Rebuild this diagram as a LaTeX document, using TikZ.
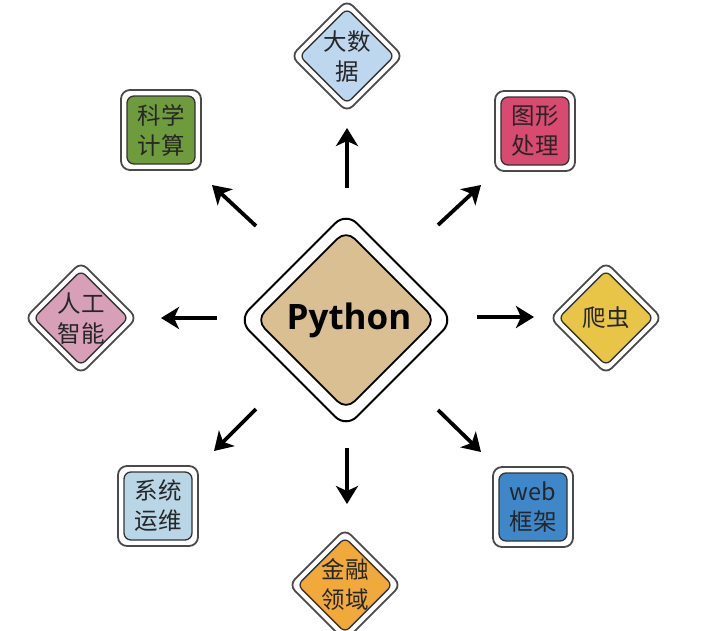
\documentclass[tikz,border=0pt]{standalone}
\usepackage{fontspec}
\newfontfamily\cjk{Noto Sans CJK SC}
\newfontfamily\pyfont{Open Sans}
\usetikzlibrary{arrows.meta}
\definecolor{bordergray}{HTML}{4A4A4A}
\definecolor{innerline}{HTML}{333333}
\definecolor{cBig}{HTML}{BDD7EE}
\definecolor{cSci}{HTML}{6E9B3B}
\definecolor{cImg}{HTML}{D94A70}
\definecolor{cSpider}{HTML}{E8C547}
\definecolor{cAI}{HTML}{D89FB9}
\definecolor{cWeb}{HTML}{3E87C9}
\definecolor{cOps}{HTML}{B9D6E6}
\definecolor{cFin}{HTML}{F2A93B}
\definecolor{cPy}{HTML}{D9BF92}
\definecolor{txtdark}{HTML}{262626}
\tikzset{
  x=1pt, y=-1pt,
  diaouter/.style={draw=bordergray, line width=1.8pt, fill=white, rounded corners=8pt,
    minimum size=79pt, inner sep=0pt, rotate=45},
  diainner/.style={draw=innerline, line width=1.3pt, rounded corners=6pt,
    minimum size=67pt, inner sep=0pt, rotate=45},
  sqouter/.style={draw=bordergray, line width=1.8pt, fill=white, rounded corners=9pt,
    minimum size=80pt, inner sep=0pt},
  sqinner/.style={draw=innerline, line width=1.3pt, rounded corners=7pt,
    minimum size=68pt, inner sep=0pt},
  pyouter/.style={draw=black, line width=2pt, fill=white, rounded corners=15pt,
    minimum size=152pt, inner sep=0pt, rotate=45},
  pyinner/.style={draw=black, line width=1.8pt, fill=cPy, rounded corners=12pt,
    minimum size=127pt, inner sep=0pt, rotate=45},
  lbl/.style={text=txtdark, align=center, inner sep=0pt,
    font=\cjk\fontsize{23.5}{30}\selectfont},
  arr/.style={line width=3.8pt, -{Stealth[length=18pt, width=22pt, inset=5pt]}},
}
\begin{document}
\begin{tikzpicture}
\useasboundingbox (0,0) rectangle (713,630);
\clip (0,0) rectangle (713,630);
\fill[white] (0,0) rectangle (713,630);

% central Python
\node[pyouter] (pyo) at (346,320) {};
\node[pyinner] (pyi) at (346,320) {};
\node[font=\pyfont\bfseries\fontsize{35}{40}\selectfont, text=black, inner sep=0pt] (py) at (349,320) {Python};

% big data (top)
\node[diaouter] (bdo) at (347,56) {};
\node[diainner, fill=cBig] (bdi) at (347,56) {};
\node[lbl] (bd) at (347,57) {大数\\据};

% science computing (upper left)
\node[sqouter] (sco) at (161,130) {};
\node[sqinner, fill=cSci] (sci) at (161,130) {};
\node[lbl] (sc) at (161,130) {科学\\计算};

% image processing (upper right)
\node[sqouter] (imo) at (535,131) {};
\node[sqinner, fill=cImg] (imi) at (535,131) {};
\node[lbl] (im) at (535,131) {图形\\处理};

% spider (right)
\node[diaouter] (spo) at (606,318) {};
\node[diainner, fill=cSpider] (spi) at (606,318) {};
\node[lbl] (sp) at (606,318) {爬虫};

% AI (left)
\node[diaouter] (aio) at (81,318) {};
\node[diainner, fill=cAI] (aii) at (81,318) {};
\node[lbl] (ai) at (81,319) {人工\\智能};

% web (lower right)
\node[sqouter] (wbo) at (533,507) {};
\node[sqinner, fill=cWeb] (wbi) at (533,507) {};
\node[lbl] (wb) at (533,507) {web\\框架};

% ops (lower left)
\node[sqouter] (opo) at (158,506) {};
\node[sqinner, fill=cOps] (opi) at (158,506) {};
\node[lbl] (op) at (158,506) {系统\\运维};

% finance (bottom)
\node[diaouter] (fio) at (345,585) {};
\node[diainner, fill=cFin] (fii) at (345,585) {};
\node[lbl] (fi) at (345,585) {金融\\领域};

% arrows
\coordinate (aUs) at (347,188);  \coordinate (aUe) at (347,128);
\coordinate (aURs) at (438,225); \coordinate (aURe) at (481,185);
\coordinate (aRs) at (477,317);  \coordinate (aRe) at (534,317);
\coordinate (aDRs) at (438,410); \coordinate (aDRe) at (481,452);
\coordinate (aDs) at (347,448);  \coordinate (aDe) at (347,504);
\coordinate (aDLs) at (256,409); \coordinate (aDLe) at (214,451);
\coordinate (aLs) at (217,318);  \coordinate (aLe) at (161,318);
\coordinate (aULs) at (256,226); \coordinate (aULe) at (212,185);
\draw[arr] (aUs) -- (aUe);
\draw[arr] (aURs) -- (aURe);
\draw[arr] (aRs) -- (aRe);
\draw[arr] (aDRs) -- (aDRe);
\draw[arr] (aDs) -- (aDe);
\draw[arr] (aDLs) -- (aDLe);
\draw[arr] (aLs) -- (aLe);
\draw[arr] (aULs) -- (aULe);
\end{tikzpicture}
\end{document}
